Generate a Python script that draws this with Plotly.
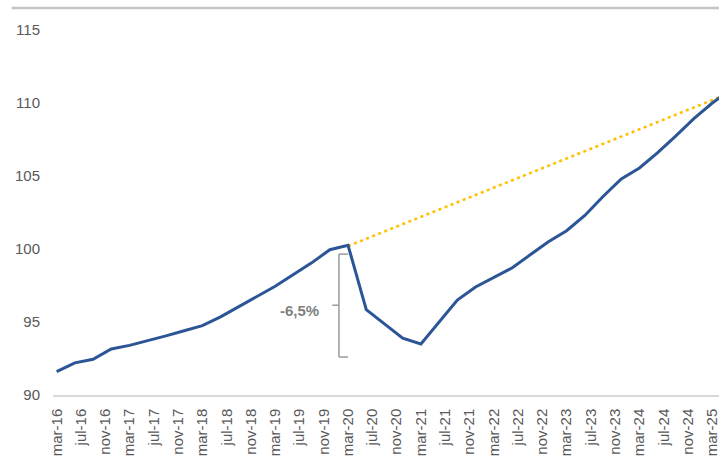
import plotly.graph_objects as go

# Quarterly index values (mar-16 .. jun-25)
quarters = ["mar-16","jun-16","sep-16","dec-16","mar-17","jun-17","sep-17","dec-17",
            "mar-18","jun-18","sep-18","dec-18","mar-19","jun-19","sep-19","dec-19",
            "mar-20","jun-20","sep-20","dec-20","mar-21","jun-21","sep-21","dec-21",
            "mar-22","jun-22","sep-22","dec-22","mar-23","jun-23","sep-23","dec-23",
            "mar-24","jun-24","sep-24","dec-24","mar-25","jun-25"]
actual = [91.6, 92.2, 92.45, 93.15, 93.4, 93.7, 94.05, 94.4,
          94.75, 95.35, 96.05, 96.75, 97.45, 98.25, 99.05, 99.95,
          100.25, 95.85, 94.85, 93.9, 93.5, 95.0, 96.5, 97.4,
          98.05, 98.7, 99.6, 100.5, 101.25, 102.3, 103.6, 104.8,
          105.55, 106.6, 107.75, 108.95, 110.0, 110.9]

# Pre-covid trend (mar-20 .. jun-25)
trend_start = "mar-20"
trend = [100.2, 100.7, 101.2, 101.7, 102.2, 102.7, 103.2, 103.7, 104.2, 104.7, 105.2,
         105.7, 106.2, 106.7, 107.2, 107.7, 108.2, 108.7, 109.2, 109.7, 110.2, 110.7]

# Axis tick labels every 4 months
tick_labels = ["mar-16","jul-16","nov-16","mar-17","jul-17","nov-17","mar-18","jul-18",
               "nov-18","mar-19","jul-19","nov-19","mar-20","jul-20","nov-20","mar-21",
               "jul-21","nov-21","mar-22","jul-22","nov-22","mar-23","jul-23","nov-23",
               "mar-24","jul-24","nov-24","mar-25"]
y_ticks = [90, 95, 100, 105, 110, 115]

drop_label = "-6,5%"

# month index positions (0 = mar-16)
x_actual = [3 * i for i in range(len(quarters))]
t0 = quarters.index(trend_start)
x_trend = [3 * (t0 + i) for i in range(len(trend))]
x_ticks = [4 * i for i in range(len(tick_labels))]

fig = go.Figure()
fig.add_trace(go.Scatter(x=x_trend, y=trend, mode="lines",
                         line=dict(color="#FFC000", width=2.6, dash="3px,3.5px"),
                         hoverinfo="skip", showlegend=False))
fig.add_trace(go.Scatter(x=x_actual, y=actual, mode="lines",
                         line=dict(color="#2B5597", width=3),
                         showlegend=False))

grey = "#9a9a9a"
# bracket showing the drop
fig.add_shape(type="line", x0=46.5, x1=46.5, y0=99.65, y1=92.6, line=dict(color=grey, width=1.5))
fig.add_shape(type="line", x0=46.5, x1=48.0, y0=99.65, y1=99.65, line=dict(color=grey, width=1.5))
fig.add_shape(type="line", x0=46.5, x1=48.0, y0=92.6, y1=92.6, line=dict(color=grey, width=1.5))
fig.add_shape(type="line", x0=45.4, x1=46.5, y0=96.15, y1=96.15, line=dict(color=grey, width=1.5))
fig.add_annotation(x=43.5, y=95.8, text=drop_label, showarrow=False, xanchor="right",
                   font=dict(family="Liberation Sans, Arial", size=15, color="#808080", weight="bold"))

# title-box bottom border (title itself cropped off)
fig.add_shape(type="line", xref="paper", yref="paper", x0=-0.062, x1=1.0,
              y0=1.060, y1=1.060, line=dict(color="#c4c4c4", width=2.5))

fig.update_layout(
    width=719, height=461,
    margin=dict(l=53, r=0, t=30, b=66),
    paper_bgcolor="white", plot_bgcolor="white",
    font=dict(family="Liberation Sans, Arial", color="#595959"),
    xaxis=dict(range=[-0.6, 109.1], tickmode="array", tickvals=x_ticks, ticktext=tick_labels,
               tickangle=-90, tickfont=dict(size=15, color="#595959"), automargin=False,
               ticklabeloverflow="allow",
               showgrid=False, zeroline=False, showline=True, linecolor="#d9d9d9", linewidth=1.5,
               ticks="", ticklabelstandoff=6),
    yaxis=dict(range=[90, 115], tickmode="array", tickvals=y_ticks, automargin=False,
               tickfont=dict(size=15, color="#595959"),
               showgrid=False, zeroline=False, showline=False, ticks="",
               ticklabelstandoff=12),
)

fig.write_html("out.html", config={"displayModeBar": False},
               post_script="document.body.style.margin='0px';")
